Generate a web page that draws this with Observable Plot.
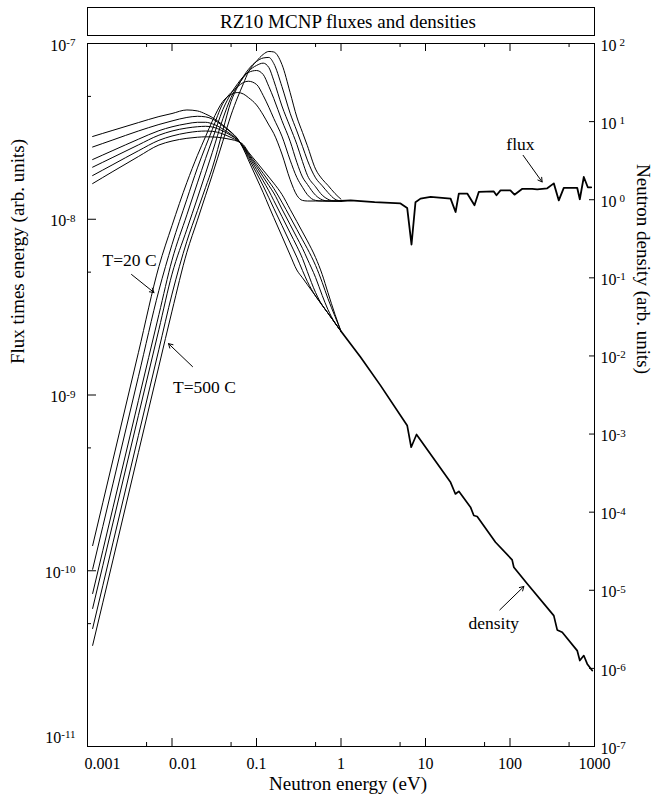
<!DOCTYPE html>
<html>
<head>
<meta charset="utf-8">
<script src="https://cdn.jsdelivr.net/npm/d3@7"></script>
<script src="https://cdn.jsdelivr.net/npm/@observablehq/plot@0.6"></script>
<style>
html, body { margin: 0; padding: 0; background: #fff; }
#wrap { position: relative; width: 657px; height: 801px; }
#title { position: absolute; left: 87px; top: 7px; width: 508px; height: 29px; box-sizing: border-box;
  border: 1px solid #000; font-size: 19px; font-family: "Liberation Serif", "Times New Roman", Times, serif;
  text-align: center; line-height: 27px; color: #000; z-index: 2; background: #fff; padding-left: 14px; }
</style>
</head>
<body>
<div id="wrap"><div id="title">RZ10 MCNP fluxes and densities</div></div>
<script>
// ---------- data ----------
const temps = ["T=20 C", "T2", "T3", "T4", "T5", "T=500 C"];
const energies = [0.00115, 0.002, 0.004, 0.007, 0.01, 0.015, 0.02, 0.025, 0.03, 0.04, 0.05, 0.06, 0.07, 0.08,
  0.1, 0.12, 0.14, 0.16, 0.2, 0.25, 0.3, 0.35, 0.4, 0.5, 0.6, 0.7, 0.85, 1.0];

// flux times energy (left axis)
const flux1 = [1.39e-10, 4.27e-10, 1.74e-9, 5.39e-9, 9.21e-9, 1.62e-8, 2.31e-8, 2.96e-8, 3.62e-8, 4.68e-8, 5.13e-8, 5.26e-8, 5.16e-8, 4.93e-8,
  4.47e-8, 3.92e-8, 3.44e-8, 3.08e-8, 2.35e-8, 1.68e-8, 1.37e-8, 1.28e-8, 1.27e-8, 1.27e-8, 1.27e-8, 1.27e-8, 1.27e-8, 1.27e-8];
const flux2 = [1.02e-10, 3.12e-10, 1.27e-9, 3.94e-9, 7.18e-9, 1.30e-8, 1.96e-8, 2.60e-8, 3.24e-8, 4.56e-8, 5.26e-8, 5.69e-8, 6.00e-8, 6.10e-8,
  5.85e-8, 5.06e-8, 4.34e-8, 3.75e-8, 2.97e-8, 2.17e-8, 1.73e-8, 1.52e-8, 1.38e-8, 1.28e-8, 1.27e-8, 1.27e-8, 1.27e-8, 1.27e-8];
const flux3 = [7.42e-11, 2.28e-10, 9.28e-10, 2.87e-9, 5.85e-9, 1.06e-8, 1.61e-8, 2.22e-8, 2.84e-8, 4.21e-8, 5.19e-8, 5.92e-8, 6.49e-8, 6.84e-8,
  7.02e-8, 6.66e-8, 5.69e-8, 4.87e-8, 3.64e-8, 2.78e-8, 2.11e-8, 1.74e-8, 1.58e-8, 1.37e-8, 1.29e-8, 1.27e-8, 1.27e-8, 1.27e-8];
const flux4 = [6.10e-11, 1.87e-10, 7.63e-10, 2.36e-9, 4.87e-9, 8.77e-9, 1.32e-8, 1.83e-8, 2.40e-8, 3.73e-8, 4.93e-8, 5.77e-8, 6.41e-8, 6.93e-8,
  7.50e-8, 7.73e-8, 7.30e-8, 6.16e-8, 4.41e-8, 3.35e-8, 2.67e-8, 2.13e-8, 1.78e-8, 1.53e-8, 1.37e-8, 1.30e-8, 1.27e-8, 1.27e-8];
const flux5 = [4.69e-11, 1.44e-10, 5.87e-10, 1.82e-9, 3.75e-9, 7.50e-9, 1.12e-8, 1.52e-8, 1.96e-8, 3.21e-8, 4.68e-8, 5.69e-8, 6.49e-8, 7.11e-8,
  7.90e-8, 8.27e-8, 8.33e-8, 7.70e-8, 5.69e-8, 4.01e-8, 3.18e-8, 2.60e-8, 2.17e-8, 1.72e-8, 1.55e-8, 1.42e-8, 1.30e-8, 1.27e-8];
const flux6 = [3.76e-11, 1.15e-10, 4.70e-10, 1.46e-9, 3.00e-9, 6.49e-9, 9.88e-9, 1.37e-8, 1.79e-8, 2.78e-8, 3.92e-8, 4.96e-8, 5.91e-8, 6.87e-8,
  7.93e-8, 8.67e-8, 9.01e-8, 8.95e-8, 7.60e-8, 5.26e-8, 3.82e-8, 3.12e-8, 2.62e-8, 1.93e-8, 1.69e-8, 1.56e-8, 1.40e-8, 1.30e-8];

// neutron density (right axis)
const dens1 = [6.45, 7.74, 9.71, 11.6, 12.7, 14.1, 13.7, 12.5, 11.3, 9.05, 7.36, 5.99, 4.47, 3.24,
  1.90, 1.23, 0.828, 0.592, 0.342, 0.196, 0.126, 0.100, 0.0818, 0.0585, 0.0445, 0.0354, 0.0264, 0.0207];
const dens2 = [4.73, 5.83, 7.58, 9.18, 10.2, 11.3, 11.7, 11.5, 10.8, 8.78, 7.25, 5.90, 4.59, 3.47,
  2.20, 1.50, 1.06, 0.779, 0.469, 0.280, 0.184, 0.124, 0.0897, 0.0585, 0.0445, 0.0354, 0.0264, 0.0207];
const dens3 = [3.27, 4.27, 5.95, 7.65, 8.58, 9.40, 9.80, 9.80, 9.37, 8.04, 6.84, 5.81, 4.70, 3.68,
  2.44, 1.74, 1.30, 0.977, 0.609, 0.376, 0.254, 0.177, 0.120, 0.0648, 0.0445, 0.0354, 0.0264, 0.0207];
const dens4 = [2.61, 3.49, 5.03, 6.70, 7.58, 8.28, 8.60, 8.71, 8.53, 7.58, 6.64, 5.78, 4.80, 3.82,
  2.66, 1.96, 1.52, 1.22, 0.760, 0.480, 0.329, 0.239, 0.174, 0.101, 0.0593, 0.0393, 0.0264, 0.0207];
const dens5 = [2.04, 2.82, 4.23, 5.76, 6.54, 7.19, 7.49, 7.58, 7.51, 6.94, 6.26, 5.64, 4.90, 3.95,
  2.84, 2.17, 1.72, 1.40, 0.929, 0.599, 0.417, 0.307, 0.236, 0.144, 0.0871, 0.0543, 0.0320, 0.0207];
const dens6 = [1.61, 2.30, 3.57, 5.02, 5.64, 6.11, 6.31, 6.39, 6.37, 6.17, 5.90, 5.59, 5.05, 4.09,
  3.05, 2.39, 1.95, 1.63, 1.17, 0.753, 0.526, 0.387, 0.297, 0.182, 0.110, 0.0648, 0.0339, 0.0207];

// epithermal tails (all temperatures coincide)
const fluxTailE = [1.0, 1.3, 2.5, 5.06, 6.07, 6.83, 7.61, 8.73, 11.5, 19.8, 22.7, 24.8, 31.2, 38.0, 42.7, 64.3, 69.2, 77.2, 101, 113,
  140, 183, 210, 276, 330, 378, 433, 624, 670, 747, 833, 914];
const fluxTailV = [1.27e-8, 1.28e-8, 1.25e-8, 1.23e-8, 1.16e-8, 7.18e-9, 1.25e-8, 1.31e-8, 1.34e-8, 1.31e-8, 1.10e-8, 1.40e-8, 1.40e-8, 1.20e-8, 1.43e-8, 1.44e-8, 1.37e-8, 1.46e-8, 1.46e-8, 1.38e-8,
  1.49e-8, 1.49e-8, 1.48e-8, 1.50e-8, 1.60e-8, 1.28e-8, 1.51e-8, 1.51e-8, 1.30e-8, 1.74e-8, 1.52e-8, 1.52e-8];
const densTailE = [1.0, 1.70, 2.93, 6.07, 6.77, 7.83, 19.8, 22.6, 24.8, 34.1, 37.3, 40.9, 67.4, 106, 111, 160, 330, 362, 415, 624, 670, 747, 820, 940];
const densTailV = [0.0207, 0.0097, 0.0042, 0.00129, 6.78e-4, 9.87e-4, 2.41e-4, 1.71e-4, 1.85e-4, 1.16e-4, 9.05e-5, 8.79e-5, 4.12e-5, 2.45e-5, 1.97e-5, 1.21e-5,
  4.74e-6, 3.11e-6, 2.90e-6, 1.69e-6, 1.26e-6, 1.46e-6, 1.14e-6, 9.37e-7];

// axes
const xMajorTicks = [0.001, 0.01, 0.1, 1, 10, 100, 1000];
const xMinorTicks = [0.005, 0.05, 0.5, 5, 50, 500];
const yMajorTicks = [1e-7, 1e-8, 1e-9, 1e-10, 1e-11];
const yMinorTicks = [5e-8, 5e-9, 5e-10, 5e-11];
const densTicks = [1e2, 1e1, 1e0, 1e-1, 1e-2, 1e-3, 1e-4, 1e-5, 1e-6, 1e-7];

// annotations
const labels = [
  {text: "T=20 C", E: 0.00314, v: 5.83e-9},
  {text: "T=500 C", E: 0.0242, v: 1.10e-9},
  {text: "flux", E: 133, v: 2.66e-8}
];
const densLabels = [{text: "density", E: 64.3, d: 3.72e-6}];
const arrows = [
  {E1: 0.00332, v1: 4.85e-9, E2: 0.00612, v2: 3.83e-9},
  {E1: 0.0175, v1: 1.45e-9, E2: 0.00909, v2: 1.96e-9},
  {E1: 143, v1: 2.31e-8, E2: 240, v2: 1.63e-8}
];
const densArrows = [{E1: 75.7, d1: 5.61e-6, E2: 146, d2: 1.12e-5}];

// ---------- build ----------
// right axis spans 1e-7..1e2 over the same height as the left 1e-11..1e-7
const toLeft = d => Math.pow(10, -11 + (Math.log10(d) + 7) * 4 / 9);

const fluxSeries = [flux1, flux2, flux3, flux4, flux5, flux6];
const densSeries = [dens1, dens2, dens3, dens4, dens5, dens6];
const fluxRows = fluxSeries.flatMap((s, k) => energies.map((e, i) => ({series: temps[k], E: e, v: s[i]})));
const densRows = densSeries.flatMap((s, k) => energies.map((e, i) => ({series: temps[k], E: e, v: toLeft(s[i])})));
const fluxTail = fluxTailE.map((e, i) => ({E: e, v: fluxTailV[i]}));
const densTail = densTailE.map((e, i) => ({E: e, v: toLeft(densTailV[i])}));

const W = 657, H = 801, mL = 87, mR = 63, mT = 43, mB = 55;
const FW = W - mL - mR, FH = H - mT - mB;
const font = '"Liberation Serif", "Times New Roman", Times, serif';
const expFmt = v => "10^" + Math.round(Math.log10(v));

const chart = Plot.plot({
  width: W, height: H,
  marginLeft: mL, marginRight: mR, marginTop: mT, marginBottom: mB,
  style: {fontFamily: font, fontSize: "16px", background: "white", color: "black", overflow: "visible"},
  x: {type: "log", domain: [1e-3, 1e3], axis: null},
  y: {type: "log", domain: [1e-11, 1e-7], axis: null},
  marks: [
    Plot.frame({stroke: "black", strokeWidth: 1}),
    // tick marks (inward, mirrored)
    Plot.tickX(xMajorTicks, {x: d => d, insetTop: FH - 8, stroke: "black"}),
    Plot.tickX(xMinorTicks, {x: d => d, insetTop: FH - 4, stroke: "black"}),
    Plot.tickX(xMajorTicks, {x: d => d, insetBottom: FH - 8, stroke: "black"}),
    Plot.tickX(xMinorTicks, {x: d => d, insetBottom: FH - 4, stroke: "black"}),
    Plot.tickY(yMajorTicks, {y: d => d, insetRight: FW - 9, stroke: "black"}),
    Plot.tickY(yMinorTicks, {y: d => d, insetRight: FW - 4, stroke: "black"}),
    Plot.tickY(densTicks.map(toLeft), {y: d => d, insetLeft: FW - 5, stroke: "black"}),
    // tick labels
    Plot.axisX({ticks: [0.001, 0.01], tickSize: 0, tickPadding: 11, textAnchor: "start", dx: -3, tickFormat: d => String(d), label: null, fontSize: 16}),
    Plot.axisX({ticks: [0.1, 1, 10, 100, 1000], tickSize: 0, tickPadding: 11, tickFormat: d => String(d), label: null, fontSize: 16}),
    Plot.axisY({ticks: [1e-7, 1e-8, 1e-9, 1e-10], tickSize: 0, tickPadding: 12, tickFormat: expFmt, label: null, fontSize: 16, dy: 2}),
    Plot.axisY({ticks: [1e-11], tickSize: 0, tickPadding: 12, tickFormat: expFmt, label: null, fontSize: 16, dy: -9}),
    Plot.text(densTicks, {y: d => toLeft(d), frameAnchor: "right", textAnchor: "start", dx: 6, dy: 2, fontSize: 16,
      text: d => "10^" + Math.round(Math.log10(d))}),
    // axis titles
    Plot.text(["Flux times energy (arb. units)"], {text: d => d, frameAnchor: "left", rotate: -90, dx: -70, dy: -31, fontSize: 19}),
    Plot.text(["Neutron density (arb. units)"], {text: d => d, frameAnchor: "right", rotate: 90, dx: 49, dy: -21, fontSize: 19}),
    Plot.text(["Neutron energy (eV)"], {text: d => d, frameAnchor: "bottom", dx: 7, dy: 43, fontSize: 19}),
    // curves
    Plot.line(fluxRows, {x: "E", y: "v", z: "series", stroke: "black", strokeWidth: 1, curve: "monotone-x"}),
    Plot.line(densRows, {x: "E", y: "v", z: "series", stroke: "black", strokeWidth: 1, curve: "monotone-x"}),
    Plot.line(fluxTail, {x: "E", y: "v", stroke: "black", strokeWidth: 1.8}),
    Plot.line(densTail, {x: "E", y: "v", stroke: "black", strokeWidth: 1.7}),
    // annotations
    Plot.text(labels, {x: "E", y: "v", text: "text", fontSize: 17.5}),
    Plot.text(densLabels, {x: "E", y: d => toLeft(d.d), text: "text", fontSize: 17.5}),
    Plot.arrow(arrows, {x1: "E1", y1: "v1", x2: "E2", y2: "v2", stroke: "black", strokeWidth: 1, headLength: 7}),
    Plot.arrow(densArrows, {x1: "E1", y1: d => toLeft(d.d1), x2: "E2", y2: d => toLeft(d.d2), stroke: "black", strokeWidth: 1, headLength: 7})
  ]
});

// superscript exponents in tick labels
chart.querySelectorAll("text").forEach(t => {
  const m = /^10\^(-?\d+)$/.exec(t.textContent);
  if (!m) return;
  const exp = m[1];
  t.textContent = "10";
  const ts = document.createElementNS("http://www.w3.org/2000/svg", "tspan");
  ts.setAttribute("dy", "-0.42em");
  ts.setAttribute("font-size", "11");
  if (!exp.startsWith("-")) ts.setAttribute("dx", "3");
  ts.textContent = exp;
  t.appendChild(ts);
});

document.getElementById("wrap").appendChild(chart);
</script>
</body>
</html>
